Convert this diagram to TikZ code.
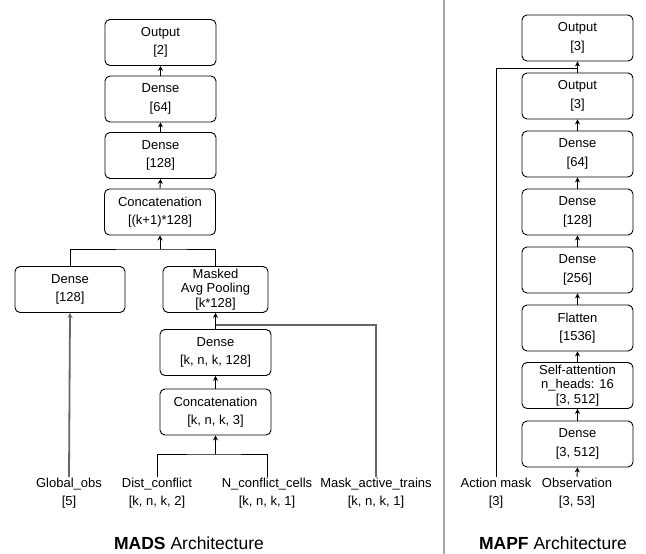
\documentclass[tikz,border=0pt]{standalone}
\usepackage{fontspec}
\setmainfont{Liberation Sans}
\usetikzlibrary{arrows.meta}
\begin{document}
\begin{tikzpicture}[x=1pt, y=-1pt,
    layer/.style={draw, rounded corners=5pt, line width=0.9pt, minimum height=46pt, minimum width=111pt, align=center, inner sep=1pt, font=\fontsize{13}{18.5}\selectfont},
    inlabel/.style={anchor=north, align=center, inner sep=1pt, font=\fontsize{13}{17.5}\selectfont},
    flow/.style={line width=0.9pt, -{Stealth[length=5pt, width=5pt]}},
    link/.style={line width=0.9pt},
    thicklink/.style={line width=1.8pt, black!60}]
    \useasboundingbox (0,0) rectangle (646,554);

    % separator between the two architectures
    \draw[line width=2pt, black!35] (444,0) -- (444,554);

    % MADS architecture
    \node[layer] (mout) at (160.5, 42.5) {Output\\{}[2]};
    \node[layer] (md64) at (160.5, 99) {Dense\\{}[64]};
    \node[layer] (md128) at (160.5, 155.5) {Dense\\{}[128]};
    \node[layer] (mcat) at (160, 212) {Concatenation\\{}[(k+1)*128]};
    \node[layer, minimum width=110pt] (mglob) at (70, 289.5) {Dense\\{}[128]};
    \node[layer, minimum width=105pt, font=\fontsize{13}{14.5}\selectfont] (mpool) at (215.5, 289.5) {Masked\\Avg Pooling\\{}[k*128]};
    \node[layer] (mdk) at (215.5, 352.5) {Dense\\{}[k, n, k, 128]};
    \node[layer] (mcatk) at (215.5, 412) {Concatenation\\{}[k, n, k, 3]};

    \node[inlabel] (gobs) at (69, 477) {Global\_obs\\{}[5]};
    \node[inlabel] (dist) at (157, 477) {Dist\_conflict\\{}[k, n, k, 2]};
    \node[inlabel] (ncell) at (267, 477) {N\_conflict\_cells\\{}[k, n, k, 1]};
    \node[inlabel] (mtrain) at (376, 477) {Mask\_active\_trains\\{}[k, n, k, 1]};

    \coordinate (jtop) at (160, 249);
    \coordinate (jcat) at (215.5, 454);
    \coordinate (jmask) at (215.5, 325);

    \draw[flow] (mcatk.north) -- (mdk.south);
    \draw[flow] (mdk.north) -- (mpool.south);
    \draw[thicklink] (mtrain.north) |- (jmask);
    \draw[link] (dist.north) |- (jcat) -| (ncell.north);
    \draw[flow] (jcat) -- (mcatk.south);
    \draw[thicklink, -{Stealth[length=5pt, width=5pt]}] (gobs.north) -- (mglob.south);
    \draw[link] (mglob.north) |- (jtop) -| (mpool.north);
    \draw[flow] (jtop) -- (mcat.south);
    \draw[flow] (mcat.north) -- (md128.south);
    \draw[flow] (md128.north) -- (md64.south);
    \draw[flow] (md64.north) -- (mout.south);

    \node[font=\fontsize{17.5}{20}\selectfont] (mtitle) at (189, 543) {\textbf{MADS} Architecture};

    % MAPF architecture
    \node[layer] (pout) at (577.5, 38) {Output\\{}[3]};
    \node[layer] (plog) at (577.5, 96) {Output\\{}[3]};
    \node[layer] (pd64) at (577.5, 154) {Dense\\{}[64]};
    \node[layer] (pd128) at (577.5, 212) {Dense\\{}[128]};
    \node[layer] (pd256) at (577.5, 270) {Dense\\{}[256]};
    \node[layer] (pflat) at (577.5, 328) {Flatten\\{}[1536]};
    \node[layer, font=\fontsize{13}{14.5}\selectfont] (patt) at (577.5, 385.5) {Self-attention\\n\_heads: 16\\{}[3, 512]};
    \node[layer] (pdin) at (577.5, 444) {Dense\\{}[3, 512]};

    \node[inlabel] (amask) at (496, 477) {Action mask\\{}[3]};
    \node[inlabel] (pobs) at (577, 477) {Observation\\{}[3, 53]};

    \coordinate (jact) at (577.5, 68);

    \draw[flow] (pobs.north) -- (pdin.south);
    \draw[flow] (pdin.north) -- (patt.south);
    \draw[flow] (patt.north) -- (pflat.south);
    \draw[flow] (pflat.north) -- (pd256.south);
    \draw[flow] (pd256.north) -- (pd128.south);
    \draw[flow] (pd128.north) -- (pd64.south);
    \draw[flow] (pd64.north) -- (plog.south);
    \draw[flow] (plog.north) -- (pout.south);
    \draw[link] (amask.north) |- (jact);

    \node[font=\fontsize{17.5}{20}\selectfont] (ptitle) at (553, 543) {\textbf{MAPF} Architecture};
\end{tikzpicture}
\end{document}
